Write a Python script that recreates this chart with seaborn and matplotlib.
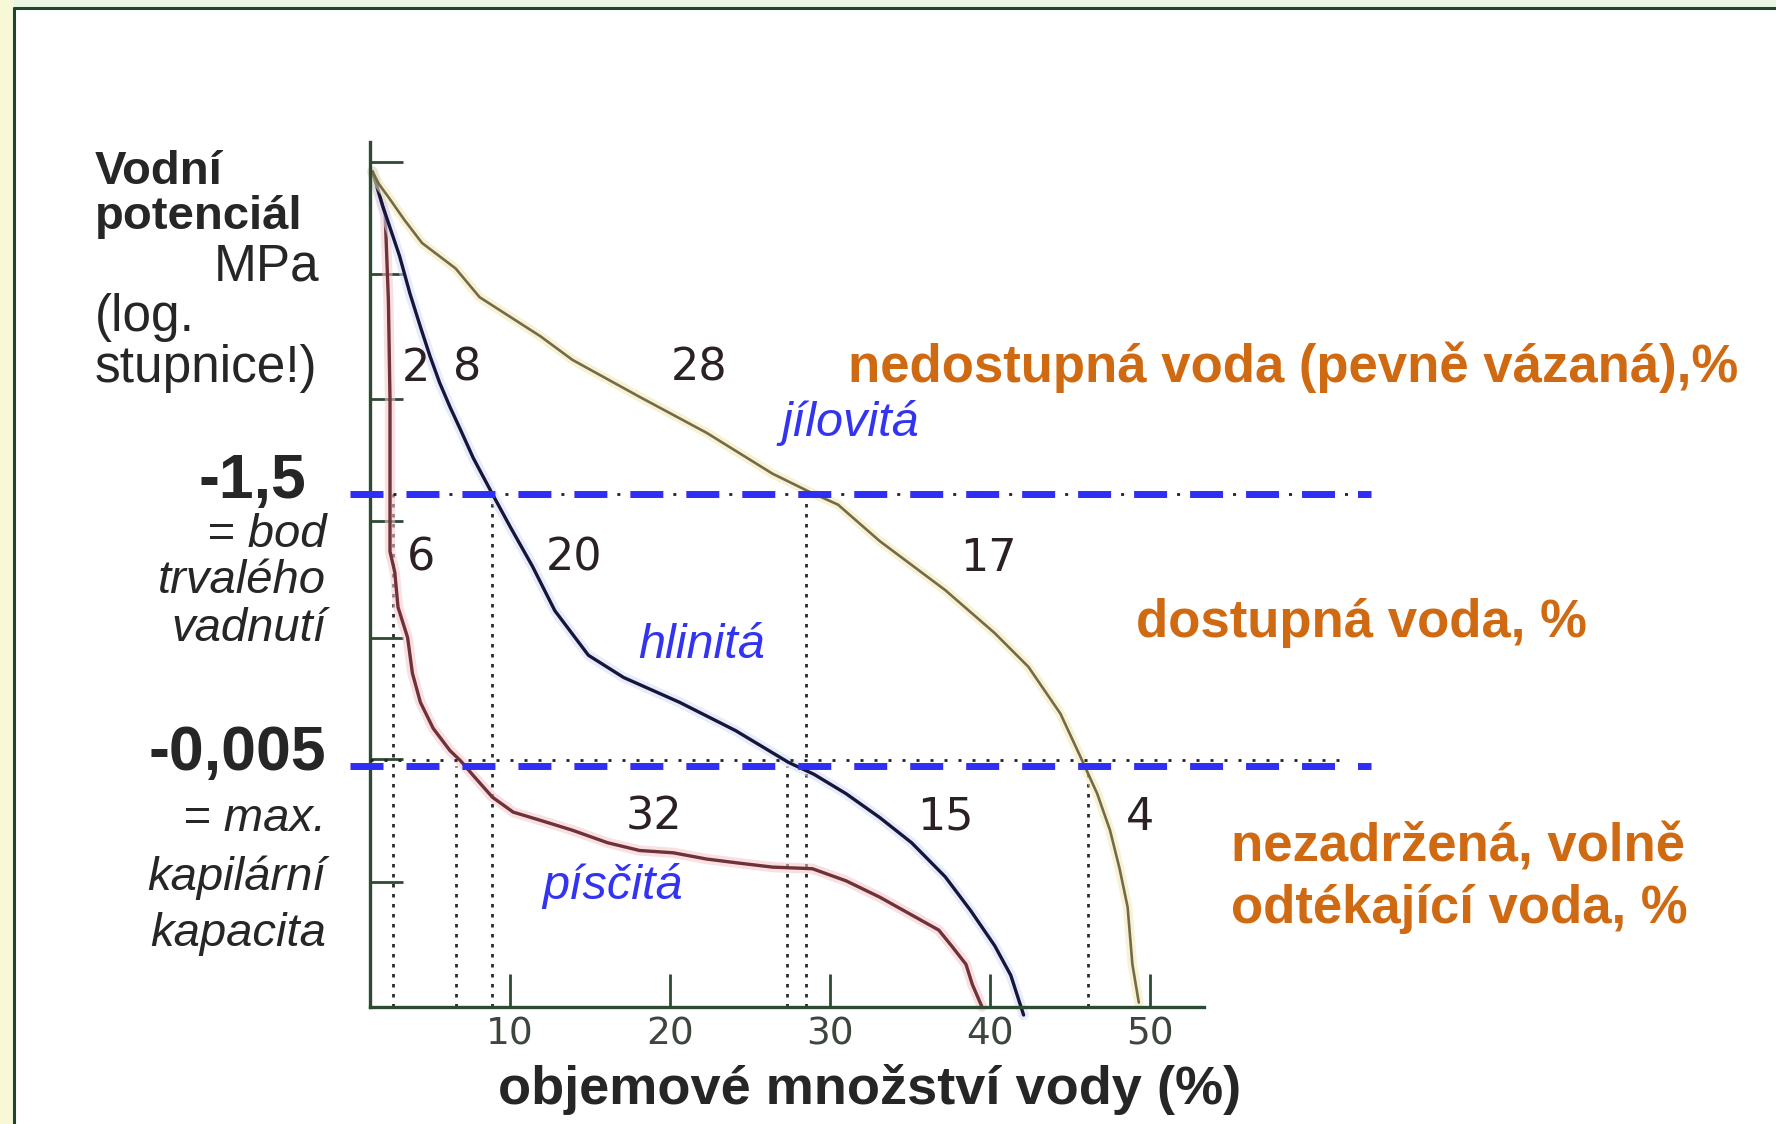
import matplotlib
matplotlib.use("Agg")
import matplotlib.pyplot as plt
import matplotlib.patheffects as pe
from matplotlib import transforms
from matplotlib.lines import Line2D
from matplotlib.patches import Rectangle
from matplotlib.ticker import NullLocator
import seaborn as sns

# ----------------------------
# DATA (x = objem vody %, y = sací tlak |psi| v MPa, log. osa)
# ----------------------------
sand_x = [1.4, 2.2, 2.4, 2.5, 2.5, 2.8, 3.0, 3.6, 3.9, 4.4, 5.2, 6.25, 6.9, 7.7, 8.9,
          10.2, 11.9, 13.9, 16.1, 18.1, 20.2, 22.3, 24.4, 26.4, 28.9, 31.0, 33.1,
          35.1, 36.8, 37.6, 38.5, 38.9, 39.5]
sand_psi = [1300, 520, 87, 11, 0.45, 0.29, 0.14, 0.074, 0.035, 0.019, 0.011, 0.0069,
            0.0056, 0.0041, 0.0026, 0.0019, 0.0016, 0.0013, 0.001, 0.00085, 0.00081,
            0.00071, 0.00065, 0.0006, 0.00058, 0.00045, 0.00032, 0.00022, 0.00016,
            0.000115, 0.000078, 0.000051, 0.000032]

loam_x = [1.4, 2.06, 2.5, 3.1, 3.75, 4.4, 5.0, 5.6, 6.25, 6.9, 7.7, 8.9, 10.0, 11.4,
          12.8, 14.9, 17.1, 20.6, 24.1, 27.4, 29.0, 31.0, 33.1, 35.1, 37.2, 38.8,
          40.3, 41.3, 42.1]
loam_psi = [1300, 620, 400, 220, 100, 50, 27, 15.5, 9.3, 5.8, 3.2, 1.5, 0.76, 0.33,
            0.13, 0.051, 0.032, 0.019, 0.0105, 0.0054, 0.0042, 0.0028, 0.0017, 0.001,
            0.00049, 0.00024, 0.000115, 0.000062, 0.000027]

clay_x = [1.4, 1.8, 2.4, 3.4, 4.5, 6.6, 8.1, 11.9, 13.9, 18.1, 22.3, 26.4, 28.6, 30.5,
          33.1, 37.2, 40.3, 42.4, 44.4, 45.6, 46.7, 47.5, 48.1, 48.6, 48.9, 49.3]
clay_psi = [1300, 1000, 760, 470, 290, 170, 93, 41, 25, 11.5, 5.4, 2.3, 1.6, 1.2,
            0.56, 0.2, 0.081, 0.04, 0.015, 0.0063, 0.0028, 0.0013, 0.00058, 0.00026,
            0.000078, 0.000035]

# hranice: bod vadnuti a max. kapilarni kapacita
levels = [1.5, 0.005]

# svisle teckovane cary (x, horni konec v MPa)
drop_x = [2.7, 6.6, 8.9, 27.3, 28.5, 46.1]
drop_top = [1.5, 0.005, 1.5, 0.005, 1.5, 0.005]

# cisla v grafu
num_text = ["2", "8", "28", "6", "20", "17", "32", "15", "4"]
num_x = [4.1, 7.3, 21.8, 4.45, 14.0, 39.9, 19.0, 37.2, 49.4]
num_y = [21, 21, 21, 0.39, 0.39, 0.39, 0.0017, 0.0017, 0.0017]

soil_names = ["jílovitá", "hlinitá", "písčitá"]
soil_x = [31.25, 22.0, 16.4]
soil_y = [6.6, 0.062, 0.0004]

xticks = [10, 20, 30, 40, 50]
yticks = [1600, 150, 11, 0.85, 0.073, 0.0058, 0.00044]

# ----------------------------
# FIGURE
# ----------------------------
W, H = 1776, 1124
sns.set_style("white")
plt.rcParams["font.family"] = ["Liberation Sans", "DejaVu Sans"]

fig = plt.figure(figsize=(W / 100, H / 100), dpi=100)
fig.patch.set_facecolor("white")


def fx(px):
    return px / W


def fy(py):
    return 1 - py / H


# ramecek obrazku
fig.add_artist(Rectangle((0, fy(8)), 1, 8 / H, transform=fig.transFigure,
                         color="#eaf6e4", lw=0, zorder=0))
fig.add_artist(Rectangle((0, 0), fx(14), 1, transform=fig.transFigure,
                         color="#f6f8d8", lw=0, zorder=0))
fig.add_artist(Line2D([fx(14), 1], [fy(8), fy(8)], transform=fig.transFigure,
                      color="#23442c", lw=2.2))
fig.add_artist(Line2D([fx(14), fx(14)], [fy(8), 0], transform=fig.transFigure,
                      color="#23442c", lw=2.2))

ax = fig.add_axes([fx(370), fy(1007), (1204 - 370) / W, (1007 - 142) / H])
ax.set_facecolor("none")
ax.set_yscale("log")
ax.set_xlim(1.25, 53.375)
ax.set_ylim(10 ** -4.496, 10 ** 3.382)

axis_col = "#2d4a33"
for s in ["top", "right"]:
    ax.spines[s].set_visible(False)
for s in ["left", "bottom"]:
    ax.spines[s].set_color(axis_col)
    ax.spines[s].set_linewidth(2.4)

ax.set_xticks(xticks)
ax.set_xticklabels([str(t) for t in xticks], fontsize=27, color="#3d463d",
                   family="DejaVu Sans")
ax.set_yticks(yticks)
ax.set_yticklabels([])
ax.yaxis.set_minor_locator(NullLocator())
ax.tick_params(axis="x", bottom=True, direction="in", length=24, width=2,
               color=axis_col, pad=7)
ax.tick_params(axis="y", left=True, direction="in", length=24, width=2,
               color=axis_col)
ax.set_xlabel("")
ax.set_ylabel("")

# svisle teckovane cary
for x0, top in zip(drop_x, drop_top):
    ax.plot([x0, x0], [ax.get_ylim()[0], top], color="#2a2a2a", lw=2,
            linestyle=(0, (1.26, 2.34)), zorder=1)

# krivky
curves = [
    (sand_x, sand_psi, "#6e3238", "#f3c6cb", 2.4),
    (loam_x, loam_psi, "#16163c", "#d6dbf4", 2.4),
    (clay_x, clay_psi, "#736a4c", "#f1e8b0", 1.9),
]
for xs, ys, col, halo, lw in curves:
    sns.lineplot(x=xs, y=ys, sort=False, estimator=None, ax=ax, color=col, lw=lw,
                 clip_on=False, zorder=2,
                 path_effects=[pe.Stroke(linewidth=lw + 5, foreground=halo, alpha=0.55),
                               pe.Normal()])

# hranicni cary
ax.plot([0, 62.5], [levels[0]] * 2, color="#222222", lw=2,
        linestyle=(4.68, (1.08, 19.07)), clip_on=False, zorder=3)
up = transforms.offset_copy(ax.transData, fig=fig, x=0, y=6, units="dots")
ax.plot([1.25, 62.5], [levels[1]] * 2, color="#222222", lw=2,
        linestyle=(0, (1.08, 3.96)), clip_on=False, zorder=3, transform=up)
for lv in levels:
    ax.plot([0, 63.8], [lv, lv], color="#2e2ef5", lw=5,
            linestyle=(0, (4.75, 3.31)), clip_on=False, zorder=3)

# popisky
for t, x0, y0 in zip(num_text, num_x, num_y):
    ax.text(x0, y0, t, fontsize=32, color="#2b2024", ha="center", va="center",
            family="DejaVu Sans", zorder=4)
for t, x0, y0 in zip(soil_names, soil_x, soil_y):
    ax.text(x0, y0, t, fontsize=35, color="#3333f2", style="italic",
            ha="center", va="center", zorder=4)

# leva strana
fig.text(fx(95), fy(172), "Vodní", fontsize=34, weight="bold", va="center")
fig.text(fx(95), fy(217), "potenciál", fontsize=34, weight="bold", va="center")
fig.text(fx(319), fy(267), "MPa", fontsize=37, ha="right", va="center")
fig.text(fx(95), fy(317), "(log.", fontsize=37, va="center")
fig.text(fx(95), fy(368), "stupnice!)", fontsize=37, va="center")

fig.text(fx(306), fy(481), "-1,5", fontsize=45, weight="bold", ha="right", va="center")
for t, py in [("= bod", 535), ("trvalého", 581), ("vadnutí", 629)]:
    fig.text(fx(326), fy(py), t, fontsize=34, style="italic", ha="right", va="center")
fig.text(fx(326), fy(753), "-0,005", fontsize=45, weight="bold", ha="right", va="center")
for t, py in [("= max.", 819), ("kapilární", 878), ("kapacita", 934)]:
    fig.text(fx(326), fy(py), t, fontsize=34, style="italic", ha="right", va="center")

# prava strana
orange = "#d06a12"
fig.text(fx(848), fy(382), "nedostupná voda (pevně vázaná),%", fontsize=38,
         weight="bold", color=orange, va="baseline")
fig.text(fx(1136), fy(637), "dostupná voda, %", fontsize=38, weight="bold",
         color=orange, va="baseline")
fig.text(fx(1231), fy(861), "nezadržená, volně", fontsize=38, weight="bold",
         color=orange, va="baseline")
fig.text(fx(1231), fy(923), "odtékající voda, %", fontsize=38, weight="bold",
         color=orange, va="baseline")

fig.text(fx(870), fy(1104), "objemové množství vody (%)", fontsize=39,
         weight="bold", ha="center", va="baseline")

fig.savefig("out.png", dpi=100)
